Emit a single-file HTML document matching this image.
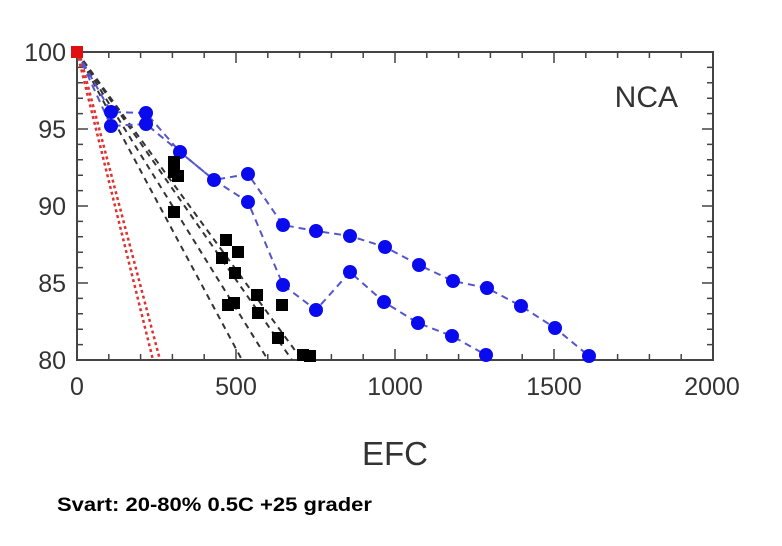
<!DOCTYPE html>
<html><head><meta charset="utf-8"><style>body{margin:0;background:#fff}svg{display:block}</style></head><body>
<svg width="782" height="546" xmlns="http://www.w3.org/2000/svg" font-family="Liberation Sans, sans-serif">
<rect width="782" height="546" fill="#fff"/>
<g stroke="#444" stroke-width="1.5">
<path d="M108.8,52v6M140.6,52v6M172.4,52v6M204.2,52v6M267.8,52v6M299.6,52v6M331.4,52v6M363.2,52v6M426.8,52v6M458.6,52v6M490.4,52v6M522.2,52v6M585.8,52v6M617.6,52v6M649.4,52v6M681.2,52v6M236,52v11M395,52v11M554,52v11"/>
<path d="M108.8,360v-6M140.6,360v-6M172.4,360v-6M204.2,360v-6M267.8,360v-6M299.6,360v-6M331.4,360v-6M363.2,360v-6M426.8,360v-6M458.6,360v-6M490.4,360v-6M522.2,360v-6M585.8,360v-6M617.6,360v-6M649.4,360v-6M681.2,360v-6M236,360v-11M395,360v-11M554,360v-11"/>
<path d="M77,67.4h6M77,82.8h6M77,98.2h6M77,113.6h6M77,144.4h6M77,159.8h6M77,175.2h6M77,190.6h6M77,221.4h6M77,236.8h6M77,252.2h6M77,267.6h6M77,298.4h6M77,313.8h6M77,329.2h6M77,344.6h6M77,129h11M77,206h11M77,283h11"/>
<path d="M713,67.4h-6M713,82.8h-6M713,98.2h-6M713,113.6h-6M713,144.4h-6M713,159.8h-6M713,175.2h-6M713,190.6h-6M713,221.4h-6M713,236.8h-6M713,252.2h-6M713,267.6h-6M713,298.4h-6M713,313.8h-6M713,329.2h-6M713,344.6h-6M713,129h-11M713,206h-11M713,283h-11"/>
</g>
<rect x="77" y="52" width="636" height="308" fill="none" stroke="#444" stroke-width="2"/>
<g stroke="#e03030" stroke-width="2.5" stroke-dasharray="3,3" fill="none">
<path d="M77,52L153,360"/><path d="M79,52L160,360"/>
</g>
<g stroke="#333" stroke-width="2" stroke-dasharray="6,5" fill="none">
<path d="M77,52L242,360"/><path d="M77,52L268,360"/><path d="M77,52L292,360"/><path d="M77,52L302,360"/>
</g>
<g stroke="#5555cc" stroke-width="2" stroke-dasharray="7,5" fill="none">
<polyline points="77,52 111,112 146,113 180,152 214,180 248,174 283,225 316,231 350,236 385,247 419,265 453,281 487,288 521,306 555,328 589,356"/>
<polyline points="77,52 111,126 146,124 180,152 214,180 248,202 283,285 316,310 350,272 384,302 418,323 452,336 486,355"/>
</g>
<g fill="#0a0aee">
<circle cx="111" cy="112" r="7"/><circle cx="146" cy="113" r="7"/><circle cx="180" cy="152" r="7"/><circle cx="214" cy="180" r="7"/><circle cx="248" cy="174" r="7"/><circle cx="283" cy="225" r="7"/><circle cx="316" cy="231" r="7"/><circle cx="350" cy="236" r="7"/><circle cx="385" cy="247" r="7"/><circle cx="419" cy="265" r="7"/><circle cx="453" cy="281" r="7"/><circle cx="487" cy="288" r="7"/><circle cx="521" cy="306" r="7"/><circle cx="555" cy="328" r="7"/><circle cx="589" cy="356" r="7"/>
<circle cx="111" cy="126" r="7"/><circle cx="146" cy="124" r="7"/><circle cx="248" cy="202" r="7"/><circle cx="283" cy="285" r="7"/><circle cx="316" cy="310" r="7"/><circle cx="350" cy="272" r="7"/><circle cx="384" cy="302" r="7"/><circle cx="418" cy="323" r="7"/><circle cx="452" cy="336" r="7"/><circle cx="486" cy="355" r="7"/>
</g>
<g fill="#000">
<rect x="168" y="156" width="12" height="12"/><rect x="168" y="166" width="12" height="12"/><rect x="172" y="170" width="12" height="12"/><rect x="168" y="206" width="12" height="12"/><rect x="220" y="234" width="12" height="12"/><rect x="216" y="252" width="12" height="12"/><rect x="232" y="246" width="12" height="12"/><rect x="229" y="267" width="12" height="12"/><rect x="222" y="299" width="12" height="12"/><rect x="228" y="297" width="12" height="12"/><rect x="251" y="289" width="12" height="12"/><rect x="252" y="307" width="12" height="12"/><rect x="276" y="299" width="12" height="12"/><rect x="272" y="332" width="12" height="12"/><rect x="297" y="349" width="12" height="12"/><rect x="304" y="350" width="12" height="12"/>
</g>
<rect x="71" y="46" width="12" height="12" fill="#e01010"/>
<g font-size="25" fill="#333" text-anchor="end">
<text x="66" y="61">100</text><text x="66" y="138">95</text><text x="66" y="215">90</text><text x="66" y="292">85</text><text x="66" y="369">80</text>
</g>
<g font-size="25" fill="#333" text-anchor="middle">
<text x="77" y="395">0</text><text x="236" y="395">500</text><text x="395" y="395">1000</text><text x="554" y="395">1500</text><text x="712" y="395">2000</text>
</g>
<text x="395" y="465" font-size="33" fill="#333" text-anchor="middle">EFC</text>
<text x="678" y="107" font-size="30" fill="#333" text-anchor="end">NCA</text>
<text x="57" y="511" font-size="19" font-weight="bold" fill="#000" textLength="315" lengthAdjust="spacingAndGlyphs">Svart: 20-80% 0.5C +25 grader</text>
</svg>
</body></html>
